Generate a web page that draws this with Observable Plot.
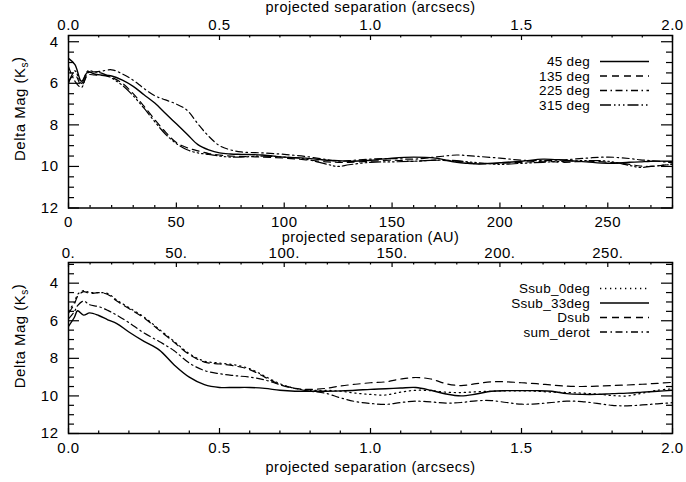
<!DOCTYPE html>
<html><head><meta charset="utf-8">
<script src="https://cdn.jsdelivr.net/npm/d3@7"></script>
<script src="https://cdn.jsdelivr.net/npm/@observablehq/plot@0.6"></script>
<style>
html,body{margin:0;padding:0;background:#fff;}
#chart{position:relative;width:686px;height:482px;overflow:hidden;background:#fff;}
#chart svg{position:absolute;left:0;overflow:visible;background:none;}
#chart svg text{letter-spacing:0.5px;}
</style></head><body><div id="chart"></div>
<script>
// ---------- data: top panel (projected separation in AU) ----------
const topSeparationAU = [0,3,6,9,12,15,20,25,30,35,40,45,50,55,60,65,70,75,80,90,100,110,120,125,130,140,150,160,170,180,185,190,200,210,220,230,240,250,260,265,270,280];
const deg45  = [4.8,5.1,5.9,5.45,5.55,5.6,5.65,5.85,6.15,6.55,6.95,7.45,7.95,8.45,8.95,9.2,9.35,9.4,9.42,9.45,9.55,9.6,9.7,9.72,9.75,9.7,9.6,9.55,9.6,9.8,9.85,9.88,9.82,9.75,9.65,9.7,9.78,9.85,9.8,9.78,9.75,9.75];
const deg135 = [5.9,5.6,6.1,5.6,5.6,5.62,5.72,6.0,6.5,7.1,7.75,8.35,8.85,9.1,9.25,9.38,9.45,9.5,9.52,9.55,9.6,9.68,9.78,9.8,9.8,9.75,9.7,9.75,9.7,9.75,9.82,9.88,9.85,9.8,9.75,9.8,9.75,9.8,9.9,9.98,10.0,9.88];
const deg225 = [5.2,5.9,6.2,5.5,5.45,5.42,5.35,5.55,5.85,6.25,6.6,6.8,7.0,7.3,7.95,8.55,9.0,9.2,9.3,9.35,9.42,9.52,9.68,9.75,9.72,9.65,9.62,9.65,9.55,9.45,9.48,9.52,9.6,9.7,9.72,9.68,9.6,9.55,9.62,9.68,9.72,9.82];
const deg315 = [6.0,5.4,6.0,5.4,5.45,5.5,5.75,6.1,6.6,7.2,7.85,8.45,8.9,9.2,9.35,9.42,9.5,9.55,9.55,9.5,9.55,9.65,9.9,10.0,9.92,9.8,9.78,9.75,9.7,9.72,9.78,9.82,9.9,9.85,9.8,9.75,9.72,9.75,9.95,10.05,10.0,9.9];
const topSeriesNames = ["45 deg","135 deg","225 deg","315 deg"];

// ---------- data: bottom panel (projected separation in arcsec) ----------
const bottomSeparationArcsec = [0,0.02,0.03,0.05,0.07,0.1,0.13,0.16,0.2,0.25,0.3,0.35,0.4,0.45,0.5,0.55,0.6,0.65,0.7,0.75,0.8,0.85,0.9,0.95,1.0,1.05,1.1,1.15,1.2,1.25,1.3,1.35,1.4,1.45,1.5,1.55,1.6,1.65,1.7,1.75,1.8,1.85,1.9,1.95,2.0];
const ssub0deg  = [5.5,5.0,4.6,4.4,4.5,4.5,4.55,4.9,5.3,5.8,6.45,7.1,7.75,8.15,8.25,8.35,8.55,8.95,9.35,9.6,9.7,9.7,9.75,9.85,9.92,9.95,9.8,9.7,9.72,9.8,9.82,9.78,9.75,9.73,9.73,9.75,9.8,9.82,9.85,9.9,9.98,10.0,9.85,9.7,9.62];
const ssub33deg = [6.3,5.8,5.47,5.7,5.58,5.72,5.95,6.15,6.6,7.1,7.55,8.35,9.0,9.4,9.55,9.55,9.55,9.6,9.7,9.75,9.75,9.75,9.73,9.7,9.65,9.62,9.58,9.55,9.7,9.9,10.0,9.9,9.75,9.72,9.72,9.72,9.75,9.88,9.92,9.92,9.88,9.85,9.8,9.75,9.7];
const dsub      = [5.6,5.1,4.7,4.45,4.55,4.5,4.6,4.95,5.35,5.85,6.5,7.15,7.8,8.2,8.3,8.4,8.6,9.0,9.4,9.6,9.65,9.6,9.47,9.38,9.3,9.25,9.1,9.02,9.1,9.35,9.45,9.35,9.25,9.25,9.3,9.35,9.42,9.48,9.5,9.48,9.45,9.42,9.38,9.33,9.28];
const sumDerot  = [5.9,5.5,5.2,4.95,5.15,5.25,5.45,5.7,6.1,6.65,7.1,7.6,8.25,8.65,8.82,8.92,9.0,9.15,9.4,9.6,9.75,9.85,10.1,10.3,10.4,10.45,10.35,10.28,10.32,10.38,10.35,10.26,10.25,10.35,10.44,10.42,10.35,10.28,10.3,10.4,10.5,10.53,10.48,10.42,10.36];
const bottomSeriesNames = ["Ssub_0deg","Ssub_33deg","Dsub","sum_derot"];

// ---------- ticks and labels ----------
const auPerArcsec = 140;
const auMajorTicks = [0,50,100,150,200,250];
const auTickLabels = ["0","50","100","150","200","250"];
const auTickLabelsDotted = ["0.","50.","100.","150.","200.","250."];
const arcsecMajorTicks = [0,0.5,1.0,1.5,2.0];
const arcsecTickLabels = ["0.0","0.5","1.0","1.5","2.0"];
const magMajorTicks = [4,6,8,10,12];
const magTickLabels = ["4","6","8","10","12"];
const yTitle = "Delta Mag (Ks)";
const arcsecTitle = "projected separation (arcsecs)";
const auTitle = "projected separation (AU)";

// ---------- styles ----------
const dash = {solid: null, dotted: "1.3 3.7", dashed: "7 5", dashDot: "7 3.5 1.5 3.5", dashDotDotDot: "11 3 1.5 3 1.5 3 1.5 3"};
const W = 686, ML = 68, MR = 14;
const FONT = "'Liberation Sans', Arial, Helvetica, sans-serif";

const auMinor = d3.range(0, 281, 10).filter(v => v % 50 !== 0);
const arcsecMinor = d3.range(0, 21).map(v => v / 10).filter(v => Math.round(v * 10) % 5 !== 0);

function makePanel(o) {
  const frameH = o.height - o.mt - o.mb, frameW = W - ML - MR;
  const lines = o.series.map(s => Plot.line(
    s.values.map((v, i) => ({x: o.xs[i], y: v})),
    {x: "x", y: "y", stroke: "black", strokeWidth: s.dash ? 1.2 : 1.4, strokeDasharray: s.dash || undefined, curve: "catmull-rom", clip: true}
  ));
  const tk = {stroke: "black", strokeWidth: 1.2};
  const magMinor = d3.range(Math.ceil(o.yDomain[1] * 2) / 2, 12.01, 0.5).filter(v => v % 2 !== 0);
  const marks = [
    ...lines,
    Plot.tickX(o.bottomMajor, {x: d => d, insetTop: frameH - 5, ...tk}),
    Plot.tickX(o.bottomMinor, {x: d => d, insetTop: frameH - 2.5, ...tk}),
    Plot.tickX(o.topMajor, {x: d => d, insetBottom: frameH - 5, ...tk}),
    Plot.tickX(o.topMinor, {x: d => d, insetBottom: frameH - 2.5, ...tk}),
    Plot.tickY(magMajorTicks, {y: d => d, insetRight: frameW - 11, ...tk}),
    Plot.tickY(magMinor, {y: d => d, insetRight: frameW - 6, ...tk}),
    Plot.tickY(magMajorTicks, {y: d => d, insetLeft: frameW - 11, ...tk}),
    Plot.tickY(magMinor, {y: d => d, insetLeft: frameW - 6, ...tk}),
    Plot.frame({stroke: "black", strokeWidth: 1.5}),
    Plot.axisX(o.bottomMajor, {anchor: "bottom", tickSize: 0, tickPadding: o.bottomPadding, tickFormat: o.bottomFormat, fontSize: 15, label: null}),
    Plot.axisX(o.topMajor, {anchor: "top", tickSize: 0, tickPadding: o.topPadding, tickFormat: o.topFormat, fontSize: 15, label: null}),
    Plot.axisY(magMajorTicks, {anchor: "left", tickSize: 0, tickPadding: 10, tickFormat: d => magTickLabels[magMajorTicks.indexOf(d)], fontSize: 15, label: null}),
    Plot.text([yTitle], {text: d => d, frameAnchor: "left", rotate: -90, dx: -48.5, dy: o.yTitleDy, fontSize: 15, textAnchor: "middle", lineAnchor: "middle"})
  ];
  if (o.topTitle) marks.push(Plot.text([o.topTitle], {text: d => d, frameAnchor: "top", dy: -28, fontSize: 14.5, lineAnchor: "middle"}));
  if (o.bottomTitle) marks.push(Plot.text([o.bottomTitle], {text: d => d, frameAnchor: "bottom", dy: o.bottomTitleDy, fontSize: 14.5, lineAnchor: "middle"}));
  const svg = Plot.plot({
    width: W, height: o.height, marginTop: o.mt, marginBottom: o.mb, marginLeft: ML, marginRight: MR,
    x: {domain: o.xDomain}, y: {domain: o.yDomain},
    style: {fontFamily: FONT, fontSize: "15px", background: "none", color: "black"},
    marks
  });
  // subscript in y title
  d3.select(svg).selectAll("text").filter(function() { return this.textContent === yTitle; }).each(function() {
    const t = d3.select(this); t.text(null);
    t.append("tspan").text("Delta Mag (K");
    t.append("tspan").attr("font-size", "10px").attr("dy", "0.3em").text("s");
    t.append("tspan").attr("dy", "-0.3em").text(")");
  });
  // legend
  const g = d3.select(svg).append("g").attr("font-family", FONT).attr("font-size", "13.5px");
  o.series.forEach((s, i) => {
    const y = o.mt + 26.5 + i * 14.5;
    g.append("text").attr("x", W - MR - 82).attr("y", y).attr("dy", "0.35em").attr("text-anchor", "end").attr("fill", "black").style("letter-spacing", "0.3px").text(s.name);
    g.append("line").attr("x1", W - MR - 72).attr("x2", W - MR - 23).attr("y1", y).attr("y2", y)
      .attr("stroke", "black").attr("stroke-width", 1.3).attr("stroke-dasharray", s.dash);
  });
  svg.style.top = o.top + "px";
  return svg;
}

const chart = document.getElementById("chart");
chart.appendChild(makePanel({
  top: 0, height: 241, mt: 35, mb: 33.5,
  xs: topSeparationAU, xDomain: [0, 280], yDomain: [12, 3.7],
  series: [
    {name: topSeriesNames[0], values: deg45, dash: dash.solid},
    {name: topSeriesNames[1], values: deg135, dash: dash.dashed},
    {name: topSeriesNames[2], values: deg225, dash: dash.dashDot},
    {name: topSeriesNames[3], values: deg315, dash: dash.dashDotDotDot}
  ],
  bottomMajor: auMajorTicks, bottomMinor: auMinor,
  bottomFormat: d => auTickLabels[auMajorTicks.indexOf(d)],
  bottomPadding: 8,
  topMajor: arcsecMajorTicks.map(a => a * auPerArcsec),
  topMinor: arcsecMinor.map(a => a * auPerArcsec),
  topFormat: d => arcsecTickLabels[arcsecMajorTicks.map(a => a * auPerArcsec).indexOf(d)],
  topPadding: 6,
  topTitle: arcsecTitle, bottomTitle: auTitle, bottomTitleDy: 29, yTitleDy: -13
}));
chart.appendChild(makePanel({
  top: 241, height: 241, mt: 21, mb: 49,
  xs: bottomSeparationArcsec, xDomain: [0, 2], yDomain: [12, 2.9],
  series: [
    {name: bottomSeriesNames[0], values: ssub0deg, dash: dash.dotted},
    {name: bottomSeriesNames[1], values: ssub33deg, dash: dash.solid},
    {name: bottomSeriesNames[2], values: dsub, dash: dash.dashed},
    {name: bottomSeriesNames[3], values: sumDerot, dash: dash.dashDot}
  ],
  bottomMajor: arcsecMajorTicks, bottomMinor: arcsecMinor,
  bottomFormat: d => arcsecTickLabels[arcsecMajorTicks.indexOf(d)],
  bottomPadding: 9,
  topMajor: auMajorTicks.map(a => a / auPerArcsec),
  topMinor: auMinor.map(a => a / auPerArcsec),
  topFormat: d => auTickLabelsDotted[auMajorTicks.map(a => a / auPerArcsec).indexOf(d)],
  topPadding: 5,
  topTitle: null, bottomTitle: arcsecTitle, bottomTitleDy: 34, yTitleDy: -12
}));
</script></body></html>
